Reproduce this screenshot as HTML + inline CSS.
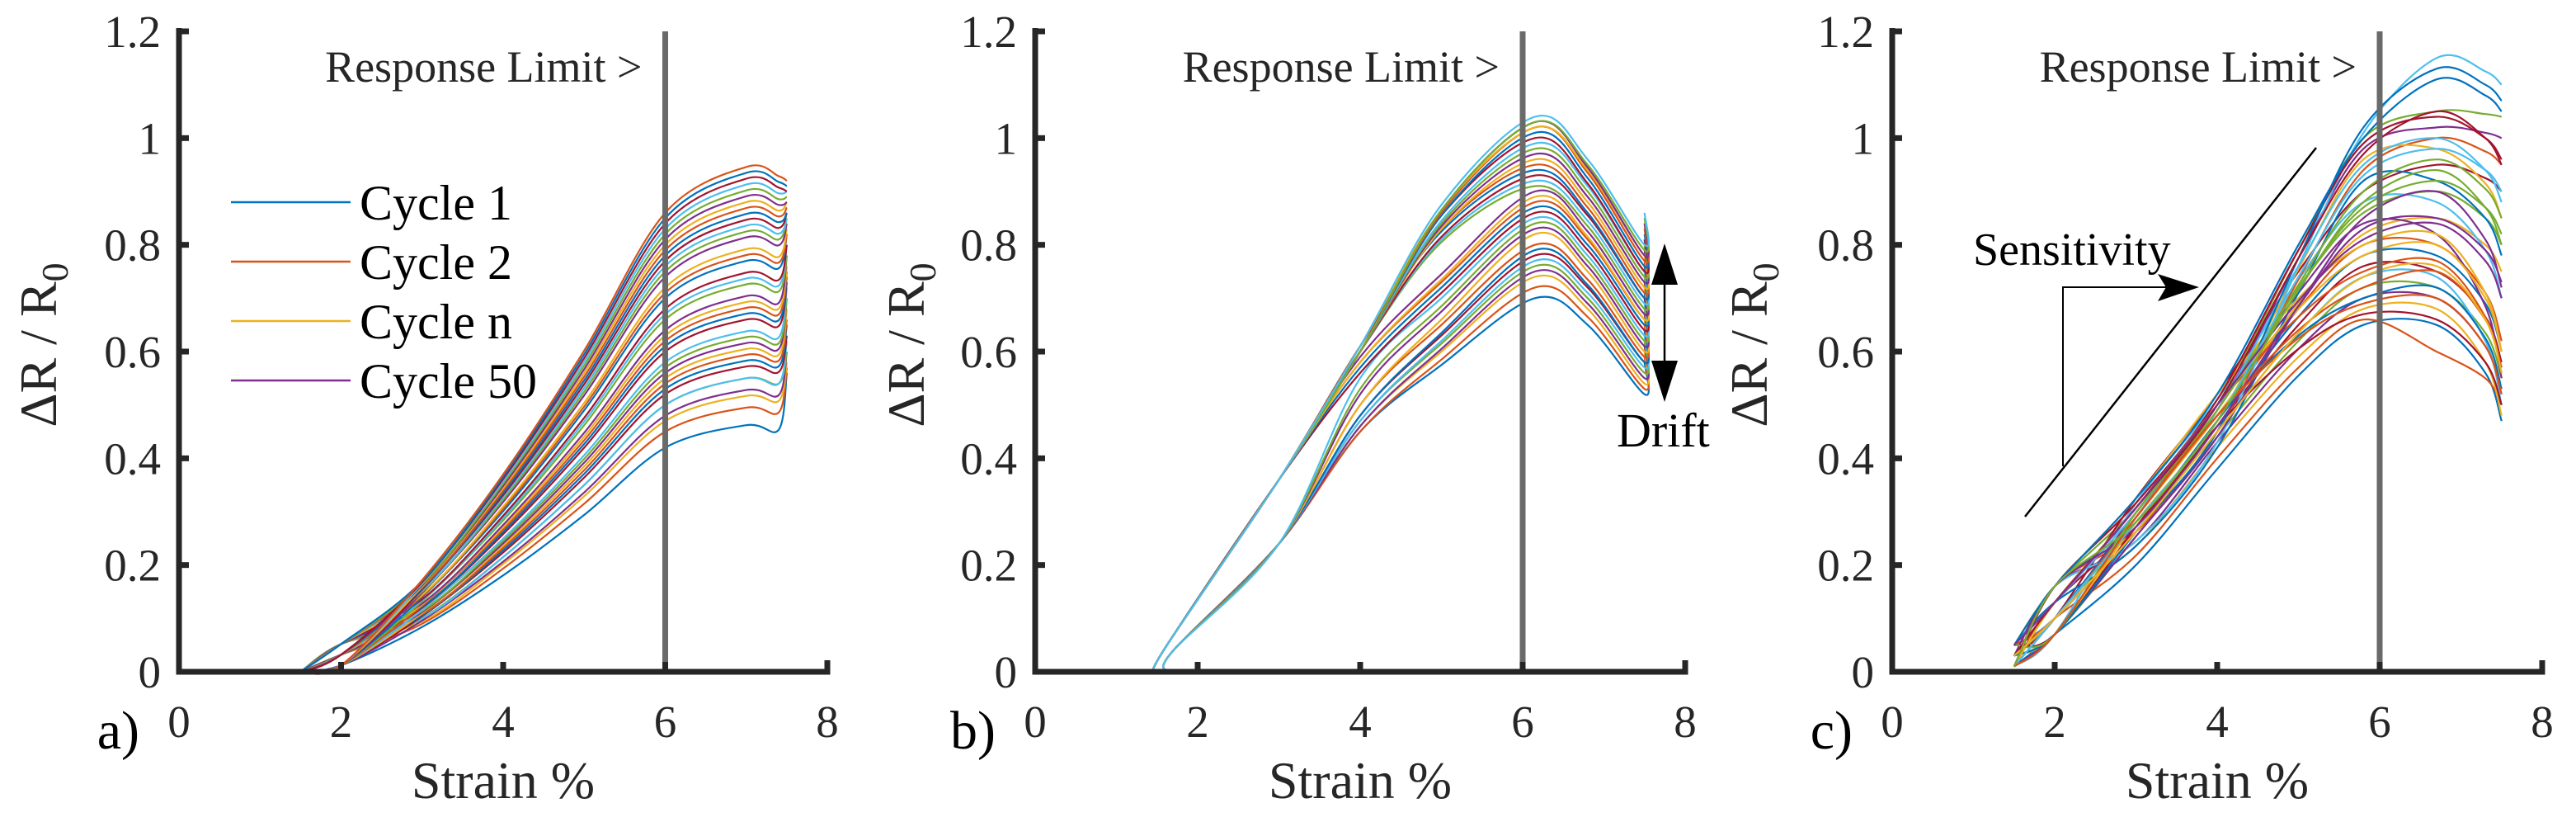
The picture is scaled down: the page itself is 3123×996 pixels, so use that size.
<!DOCTYPE html>
<html><head><meta charset="utf-8"><style>
html,body{margin:0;padding:0;background:#fff;}
svg{display:block;}
svg text{font-family:"Liberation Serif","DejaVu Serif",serif;}
</style></head><body>
<svg id="chart" width="3123" height="996" viewBox="0 0 3123 996" font-family="Liberation Serif, serif"></svg>
<script>
// ---- data ----
const xTicks=[0,2,4,6,8];
const yTicks=[0,0.2,0.4,0.6,0.8,1,1.2];
const yTickLabels=["0","0.2","0.4","0.6","0.8","1","1.2"];
const xTickLabels=["0","2","4","6","8"];
const responseLimit=6;
// panel a: value at 6% strain, peak near 7%, end at 7.5%
const aStrain=[1.5,2,3,4,5,6,7,7.4];
const aShape=[0,0.03,0.2,0.43,0.7,1,1.1,1.08];
const aVal6=[0.42,0.45,0.47,0.48,0.5,0.5,0.52,0.53,0.54,0.55,0.56,0.57,0.58,0.6,0.61,0.62,0.63,0.64,0.66,0.67,0.68,0.7,0.71,0.72,0.74,0.75,0.76,0.77,0.78,0.79,0.8,0.81,0.82,0.83,0.84,0.85,0.86];
const aEnd=[0.56,0.57,0.58,0.6,0.6,0.62,0.63,0.65,0.66,0.68,0.7,0.7,0.72,0.73,0.74,0.75,0.76,0.78,0.78,0.8,0.8,0.82,0.82,0.83,0.84,0.85,0.85,0.86,0.86,0.87,0.88,0.88,0.89,0.9,0.9,0.91,0.92];
// panel b: peak near 6.2%, end at 7.5%
const bPeak=[0.7,0.72,0.74,0.75,0.76,0.77,0.78,0.79,0.8,0.82,0.83,0.84,0.85,0.86,0.87,0.88,0.89,0.9,0.91,0.92,0.93,0.94,0.95,0.96,0.97,0.98,0.99,1.0,1.01,1.02,1.02,1.03,1.03,1.04];
const bEnd=[0.52,0.53,0.54,0.55,0.56,0.57,0.58,0.58,0.59,0.6,0.61,0.62,0.63,0.64,0.65,0.66,0.66,0.67,0.68,0.69,0.7,0.7,0.71,0.72,0.73,0.74,0.75,0.75,0.76,0.77,0.78,0.78,0.79,0.8];
const bAt4=[0.45,0.45,0.46,0.46,0.47,0.47,0.48,0.48,0.5,0.5,0.52,0.53,0.55,0.56,0.57,0.58,0.58,0.59,0.6,0.6,0.6,0.61,0.61,0.6,0.6,0.6,0.6,0.61,0.6,0.6,0.61,0.6,0.6,0.61];
// panel c
const cAt4=[0.38,0.4,0.42,0.43,0.44,0.45,0.46,0.47,0.48,0.48,0.5,0.5,0.51,0.52,0.42,0.45,0.47,0.49,0.5,0.43,0.46,0.48,0.5,0.52,0.44,0.47,0.49,0.51,0.45,0.48,0.5,0.46,0.49,0.47,0.5,0.52,0.48,0.45,0.5,0.47];
const cAt58=[0.65,0.66,0.68,0.7,0.72,0.74,0.76,0.78,0.8,0.82,0.84,0.86,0.88,0.9,0.92,0.94,0.96,0.98,1.0,1.01,0.67,0.7,0.75,0.8,0.85,0.9,0.95,0.99,1.02,0.72,0.78,0.83,0.87,0.93,0.97,1.0,0.69,0.74,0.81,0.88];
const cAt67=[0.65,0.6,0.68,0.7,0.72,0.74,0.75,0.78,0.8,0.85,0.82,0.9,0.88,0.95,0.92,1.0,0.98,1.02,1.05,1.15,0.66,0.72,0.77,0.82,0.9,0.96,1.0,1.04,1.13,0.75,0.8,0.85,0.92,0.98,1.05,1.11,0.7,0.76,0.84,0.94];
const cEnd=[0.47,0.5,0.48,0.52,0.55,0.5,0.58,0.6,0.62,0.75,0.55,0.8,0.7,0.9,0.78,0.95,0.85,1.0,1.04,1.1,0.5,0.53,0.56,0.6,0.72,0.85,0.88,0.96,1.07,0.57,0.6,0.73,0.82,0.9,0.95,1.05,0.52,0.56,0.7,0.8];
const colors=["#0072BD","#D95319","#EDB120","#7E2F8E","#77AC30","#4DBEEE","#A2142F"];
const legendLabels=["Cycle 1","Cycle 2","Cycle n","Cycle 50"];

const NS="http://www.w3.org/2000/svg";
const SERIF='"Liberation Serif", serif';
const svg=document.getElementById('chart');
function mk(tag,attrs,parent){const e=document.createElementNS(NS,tag);for(const k in attrs)e.setAttribute(k,attrs[k]);if(tag==='text')e.setAttribute('font-family',SERIF);(parent||svg).appendChild(e);return e;}
function smoothPath(pts){let d="M"+pts[0][0].toFixed(1)+","+pts[0][1].toFixed(1);
 for(let i=0;i<pts.length-1;i++){const p0=pts[i-1]||pts[i],p1=pts[i],p2=pts[i+1],p3=pts[i+2]||p2;
  const c1=[p1[0]+(p2[0]-p0[0])/6,p1[1]+(p2[1]-p0[1])/6],c2=[p2[0]-(p3[0]-p1[0])/6,p2[1]-(p3[1]-p1[1])/6];
  d+=" C"+c1[0].toFixed(1)+","+c1[1].toFixed(1)+" "+c2[0].toFixed(1)+","+c2[1].toFixed(1)+" "+p2[0].toFixed(1)+","+p2[1].toFixed(1);}
 return d;}
const Y0=814,Y12=38;
function makePanel(x0,x8,label){
 const sx=v=>x0+(x8-x0)*v/8, sy=v=>Y0-(Y0-Y12)*v/1.2;
 const g=mk('g',{});  
 const plot=mk('g',{},g);  
 return {sx,sy,g,plot,x0,x8};
}
function axes(P,label,ylabX){
 const {sx,sy,g,x0,x8}=P;
 const rl=mk('line',{x1:sx(responseLimit),x2:sx(responseLimit),y1:Y12,y2:Y0,stroke:'#6a6a6a','stroke-width':7},g);
  
 const rt=mk('text',{x:sx(responseLimit)-28,y:99,'text-anchor':'end','font-size':54,fill:'#262626'},g); rt.textContent='Response Limit >';
  
 const ax=mk('path',{d:`M${x0},${Y12-4} L${x0},${Y0} L${x8},${Y0} L${x8},${Y0-14}`,fill:'none',stroke:'#262626','stroke-width':7},g);
  
 xTicks.forEach((v,i)=>{mk('line',{x1:sx(v),x2:sx(v),y1:Y0,y2:Y0-12,stroke:'#262626','stroke-width':7},g);
  const t=mk('text',{x:sx(v),y:893,'text-anchor':'middle','font-size':55,fill:'#262626'},g); t.textContent=xTickLabels[i];
   });
 yTicks.forEach((v,i)=>{mk('line',{x1:x0,x2:x0+12,y1:sy(v),y2:sy(v),stroke:'#262626','stroke-width':7},g);
  const t=mk('text',{x:x0-22,y:sy(v)+19,'text-anchor':'end','font-size':55,fill:'#262626'},g); t.textContent=yTickLabels[i];
   });
 const xl=mk('text',{x:(x0+x8)/2,y:967,'text-anchor':'middle','font-size':64,fill:'#262626'},g); xl.textContent='Strain %';
  
 const yl=mk('text',{x:0,y:0,'text-anchor':'middle','font-size':64,fill:'#262626',transform:`translate(${ylabX},418) rotate(-90)`},g);
 yl.innerHTML='ΔR / R<tspan dy="14" font-size="46">0</tspan>';
  
 const pl=mk('text',{x:x0-48,y:907,'text-anchor':'end','font-size':66,fill:'#000'},g); pl.textContent=label+')';
  
}
function addCurve(P,pts,i){
 const p=mk('path',{d:smoothPath(pts.map(q=>[P.sx(q[0]),P.sy(q[1])])),fill:'none',stroke:colors[i%7],'stroke-width':2.2},P.plot);
  
}
// panel a
const A=makePanel(217,1003,'a');
aVal6.forEach((v,i)=>{const pts=aStrain.map((s,k)=>[s,v*aShape[k]]);pts[1][1]=0.012+0.02*(i%3);pts.push([7.5,aEnd[i]]);addCurve(A,pts,i);});
axes(A,'a',68);
// legend
legendLabels.forEach((l,i)=>{const y=245+i*72;
 const ln=mk('line',{x1:280,x2:425,y1:y,y2:y,stroke:colors[i],'stroke-width':2.5});  
 const t=mk('text',{x:436,y:y+21,'font-size':60,fill:'#000'}); t.textContent=l;  });
// panel b
const B=makePanel(1255,2043,'b');
bPeak.forEach((p,i)=>{const s=bAt4[i]>0.55?1.5:1.62;
 const pts=[[s,0],[s+0.08,0.04],[3,(bAt4[i]>0.55?0.36:0.24)],[4,bAt4[i]],[5,(bAt4[i]+p)/2+0.05*(p>0.9?1:0)],[6.15,p],[6.8,(p+bEnd[i])/2+0.04],[7.5,bEnd[i]],[7.5,bEnd[i]+0.06]];
 addCurve(B,pts,i);});
axes(B,'b',1120);
// drift annotation
(function(){const x=2018;
 const ln=mk('line',{x1:x,x2:x,y1:310,y2:472,stroke:'#000','stroke-width':2.5});  
 mk('path',{d:`M${x},295 L${x-16},345 L${x+16},345 Z`,fill:'#000'});
 mk('path',{d:`M${x},487 L${x-16},437 L${x+16},437 Z`,fill:'#000'});
 const t=mk('text',{x:1960,y:541,'font-size':58,fill:'#000'}); t.textContent='Drift';  })();
// panel c
const C=makePanel(2294,3082,'c');
cAt4.forEach((v,i)=>{const pts=[[1.5,0.01+0.02*(i%3)],[2,0.07+0.03*(i%4)],[3,0.2+0.25*(v-0.38)/0.14*0.5],[4,v],[5,(v+cAt58[i])/2+0.04],[5.8,cAt58[i]],[6.7,cAt67[i]],[7.3,(cAt67[i]+cEnd[i])/2],[7.5,cEnd[i]]];
 addCurve(C,pts,i);});
axes(C,'c',2142);
// sensitivity annotation
(function(){
 const l=mk('line',{x1:2455,y1:626,x2:2808,y2:179,stroke:'#000','stroke-width':2.5});  
 const b=mk('path',{d:'M2501,565 L2501,348 L2640,348',fill:'none',stroke:'#000','stroke-width':2});  
 mk('path',{d:'M2666,348 L2616,332 L2626,348 L2616,365 Z',fill:'#000'});
 const t=mk('text',{x:2392,y:321,'font-size':56,fill:'#000'}); t.textContent='Sensitivity';  })();
</script>
</body></html>
